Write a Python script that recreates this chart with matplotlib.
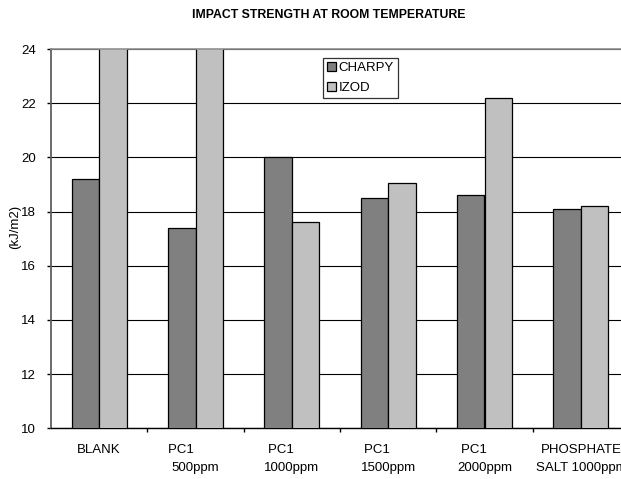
import matplotlib
matplotlib.use('Agg')
import matplotlib.pyplot as plt
import numpy as np

plt.rcParams['font.family'] = ['Liberation Sans Narrow', 'Liberation Sans', 'DejaVu Sans']

# Data
categories = ['BLANK', 'PC1        \n500ppm', 'PC1      \n1000ppm', 'PC1      \n1500ppm',
              'PC1      \n2000ppm', 'PHOSPHATE\nSALT 1000ppm']
charpy = [19.2, 17.4, 20.0, 18.5, 18.6, 18.1]
izod = [25.5, 25.0, 17.6, 19.05, 22.2, 18.2]  # first two run off the top of the chart
y_ticks = [10, 12, 14, 16, 18, 20, 22, 24]

fig = plt.figure(figsize=(6.21, 4.79), dpi=100)
ax = fig.add_axes([51 / 621, 1 - 428.3 / 479, 578 / 621, 379.3 / 479])

x = np.arange(len(categories))
w = 0.286
ax.bar(x - w / 2, charpy, w, bottom=0, color='#808080', edgecolor='black', linewidth=0.9,
       label='CHARPY', zorder=3)
ax.bar(x + w / 2, izod, w, bottom=0, color='#c0c0c0', edgecolor='black', linewidth=0.9,
       label='IZOD', zorder=3)

ax.set_xlim(-0.5, len(categories) - 0.5)
ax.set_ylim(10, 24)
ax.set_yticks(y_ticks)
ax.yaxis.grid(True, color='black', linewidth=0.8, zorder=0)

# category labels at centres, tick marks between categories
ax.set_xticks(x)
ax.set_xticklabels(categories, fontsize=9.5, linespacing=1.75)
ax.set_xticks(np.arange(len(categories)) + 0.5, minor=True)
ax.tick_params(axis='x', which='major', length=0, pad=11)
ax.tick_params(axis='x', which='minor', length=3, width=1, direction='out', color='black')
ax.tick_params(axis='y', length=3, width=1, direction='out', pad=8, labelsize=9.5, color='black')

ax.spines['top'].set_color('#909090')
ax.spines['top'].set_linewidth(1.2)
ax.spines['top'].set_zorder(4)
ax.spines['left'].set_color('#606060')
ax.spines['left'].set_linewidth(1.3)
ax.spines['bottom'].set_color('black')
ax.spines['bottom'].set_linewidth(1.0)
ax.spines['right'].set_visible(False)

ax.set_ylabel('(kJ/m2)', fontsize=9.5)
ax.yaxis.set_label_coords(-0.051, 0.53)

fig.text(329 / 621, 1 - 15 / 479, 'IMPACT STRENGTH AT ROOM TEMPERATURE', ha='center', va='center',
         fontsize=8.8, fontweight='bold')

leg = ax.legend(loc='upper left', bbox_to_anchor=(323 / 621, 1 - 58 / 479),
                bbox_transform=fig.transFigure, fontsize=9.5, frameon=True, fancybox=False,
                handlelength=0.7, handleheight=0.7, handletextpad=0.2, borderpad=0.3,
                labelspacing=0.6, borderaxespad=0)
leg.get_frame().set_edgecolor('black')
leg.get_frame().set_linewidth(0.9)

fig.savefig('out.png', dpi=100)
